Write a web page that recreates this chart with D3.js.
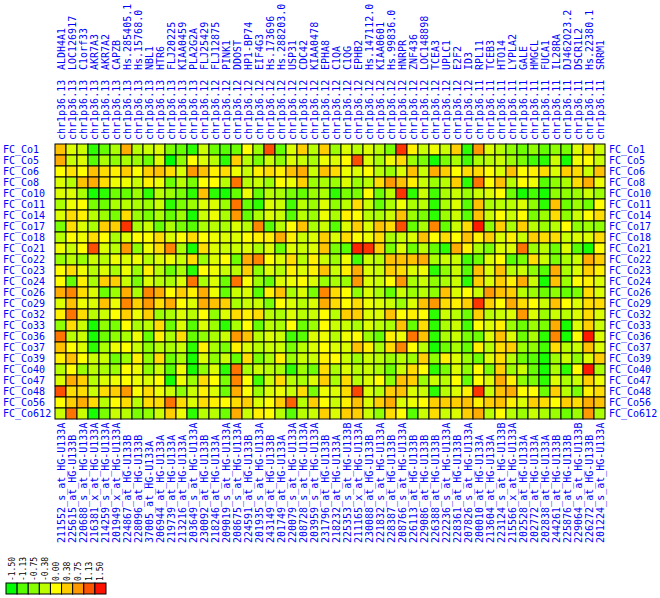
<!DOCTYPE html>
<html>
<head>
<meta charset="utf-8">
<script src="https://d3js.org/d3.v7.min.js"></script>
<style>
  body { margin: 0; background: #fff; }
  .lbl { font-family: "DejaVu Sans Mono", monospace; font-size: 10px; fill: #0000ff; }
  .leg { font-family: "DejaVu Sans Mono", monospace; font-size: 8px; fill: #000; }
</style>
</head>
<body>
<div id="chart"></div>
<script>
"use strict";

// sample rows
var samples = ["FC_Co1","FC_Co5","FC_Co6","FC_Co8","FC_Co10","FC_Co11","FC_Co14","FC_Co17","FC_Co18",
  "FC_Co21","FC_Co22","FC_Co23","FC_Co24","FC_Co26","FC_Co29","FC_Co32","FC_Co33","FC_Co36","FC_Co37",
  "FC_Co39","FC_Co40","FC_Co47","FC_Co48","FC_Co56","FC_Co612"];

// gene names (top)
var genes = ["ALDH4A1","LOC126917","C1orf33","AKR7A3","AKR7A2","CAPZB","Hs.285405.1","Hs.15768.0","NBL1",
  "HTR6","FLJ20225","KIAA0459","PLA2G2A","FLJ25429","FLJ12875","PINK1","DDOST","HP1-BP74","EIF4G3",
  "Hs.173696","Hs.288203.0","USP31","CDC42","KIAA0478","EPHA8","C1QA","C1QG","EPHB2","Hs.147112.0",
  "KIAA0601","Hs.99836.0","HNRPR","ZNF436","LOC148898","TCEA3","UPLC1","E2F2","ID3","RPL11","TCEB3",
  "HTO14","LYPLA2","GALE","HMGCL","FUCA1","IL28RA","DJ462O23.2","DSCR1L2","Hs.22380.1","SRRM1"];

// cytoband per column (13 x .13, 25 x .12, 12 x .11)
var bands = ["chr1p36.13","chr1p36.13","chr1p36.13","chr1p36.13","chr1p36.13","chr1p36.13","chr1p36.13",
  "chr1p36.13","chr1p36.13","chr1p36.13","chr1p36.13","chr1p36.13","chr1p36.13",
  "chr1p36.12","chr1p36.12","chr1p36.12","chr1p36.12","chr1p36.12","chr1p36.12","chr1p36.12","chr1p36.12",
  "chr1p36.12","chr1p36.12","chr1p36.12","chr1p36.12","chr1p36.12","chr1p36.12","chr1p36.12","chr1p36.12",
  "chr1p36.12","chr1p36.12","chr1p36.12","chr1p36.12","chr1p36.12","chr1p36.12","chr1p36.12","chr1p36.12",
  "chr1p36.12",
  "chr1p36.11","chr1p36.11","chr1p36.11","chr1p36.11","chr1p36.11","chr1p36.11","chr1p36.11","chr1p36.11",
  "chr1p36.11","chr1p36.11","chr1p36.11","chr1p36.11"];

// probe ids (bottom)
var probes = ["211552_s_at_HG-U133A","225615_at_HG-U133B","220688_s_at_HG-U133A","216381_x_at_HG-U133A",
  "214259_s_at_HG-U133A","201949_x_at_HG-U133A","224867_at_HG-U133B","228096_at_HG-U133B","37005_at_HG-U133A",
  "206944_at_HG-U133A","219739_at_HG-U133A","213216_at_HG-U133A","203649_s_at_HG-U133A","230092_at_HG-U133B",
  "218246_at_HG-U133A","209019_s_at_HG-U133A","208675_s_at_HG-U133A","224591_at_HG-U133B","201935_s_at_HG-U133A",
  "243149_at_HG-U133B","201749_at_HG-U133A","220079_s_at_HG-U133A","208728_s_at_HG-U133A","203959_s_at_HG-U133A",
  "231796_at_HG-U133B","218232_at_HG-U133A","225353_s_at_HG-U133B","211165_x_at_HG-U133A","230088_at_HG-U133B",
  "221832_s_at_HG-U133A","228387_at_HG-U133B","208766_s_at_HG-U133A","226113_at_HG-U133B","229086_at_HG-U133B",
  "226388_at_HG-U133B","222236_s_at_HG-U133A","228361_at_HG-U133B","207826_s_at_HG-U133A","200010_at_HG-U133A",
  "213604_at_HG-U133A","223124_s_at_HG-U133B","215566_x_at_HG-U133A","202528_at_HG-U133A","202772_at_HG-U133A",
  "202838_at_HG-U133A","244261_at_HG-U133B","225876_at_HG-U133B","229064_s_at_HG-U133B","226272_at_HG-U133B",
  "201224_s_at_HG-U133A"];

// expression values, one row per sample, one value per probe
var values = [
  [0.45,-0.2,-0.3,-1.3,-1.0,-0.5,0.6,-0.4,-0.3,-0.2,-0.85,-1.0,-1.3, -0.3,-0.95,-1.1,-0.95,0,-0.6,1.15,-1.0,-0.2,0.35,-0.4,0.35,-0.6, -0.2,-0.4,-0.2,-0.4,-0.85,1.3,0.1,-0.3,-0.1,-0.3,0.35,-1.3, 0.75,-0.2,-0.4,-0.7,-0.95,-0.7,-1.0,-0.7,-0.85,-0.2,0.25,-0.3],
  [0.6,-0.3,-0.2,-1.1,-0.5,-0.7,-0.5,-0.6,-0.95,-0.2,-1.5,-0.7,0, -0.2,-0.4,-1.3,0.35,-0.4,-0.85,-0.3,-0.7,-0.2,-0.3,-0.5,-0.1,-0.2, 0,1.15,-0.2,-0.5,-0.1,0.25,-0.6,-0.85,-1.4,-0.85,-0.5,-1.2, -0.5,-0.4,-0.3,-0.6,-0.85,-1.2,-1.3,-0.3,-1.4,-0.1,0,-0.3],
  [0,0.2,0,0.45,0.25,0.1,0.35,0,0.35,0.45,0.25,-0.2,0.75, 0.45,0.1,0.25,-0.1,-0.3,0.1,0.25,0.1,0.45,0.6,-0.3,0.45,0.25, -0.1,-0.2,0,-0.4,-0.6,-0.2,0.45,-0.3,0.6,0.35,0,0.25, 0.25,0,-0.2,0.45,0,0.1,0.25,-0.2,0.35,0.25,-0.3,0.45],
  [-0.2,-0.4,0.45,0.6,0.25,-0.1,-0.1,-0.3,0.1,-0.1,-0.95,-0.4,-0.85, 0,0,-0.4,0.95,-0.4,-0.3,-0.6,0,-0.1,0.35,-0.6,-0.5,-0.6, -0.2,-0.6,-0.4,0.25,0.75,0.45,0.1,-0.3,-0.6,-0.4,0.35,-1.3, 0.95,0,0.45,-0.4,0,-0.1,-1.1,-0.7,-0.5,0.25,0.6,-0.1],
  [-0.2,-0.2,-0.5,-1.4,-1.3,-0.95,-1.0,-0.6,-1.3,-0.4,-0.6,-0.85,-1.3, 0.45,-1.3,-1.4,-1.0,-0.1,-1.0,-0.4,-0.5,-0.85,-1.0,-0.6,-0.5,-1.3, -0.85,-0.85,0,-0.95,-0.4,1.3,-1.3,-0.3,-1.2,-0.5,-0.3,-0.6, -0.3,-0.2,0,-0.95,-1.4,-1.2,-1.4,-0.7,-0.7,-0.6,-0.3,-0.6],
  [-0.5,-0.1,0,-0.85,-0.95,-0.5,-0.4,-0.5,-0.6,-0.3,-1.3,-0.85,-0.6, -0.2,-0.2,-0.6,0.95,-1.0,-1.3,-0.2,-0.3,-1.2,-0.4,-0.6,-0.2,-0.7, -0.4,0.25,-0.3,-1.0,-0.5,-0.1,-0.5,-0.4,-1.3,-0.5,-0.2,-1.1, 0.45,-0.5,-0.4,-0.4,-0.2,-0.7,-1.3,0.45,-0.95,-0.6,-0.95,0],
  [-0.2,0.25,0.1,-0.4,-0.6,-0.85,0.25,-0.6,-0.85,-0.5,-1.0,-0.6,-1.4, -0.3,-0.1,-0.5,0.75,-1.0,-0.5,-0.2,-0.3,-1.1,-0.4,-0.6,-0.1,-0.5, 0.1,0,-0.4,-0.5,-0.3,0.45,-0.6,-0.85,-1.3,-0.6,-0.3,-1.1, 0.45,-0.3,0,-0.3,0,-0.85,-0.6,0.25,-0.7,-0.3,0,0.25],
  [-0.85,0.25,-0.2,-0.5,0.35,0.35,1.3,-0.5,-0.3,-1.0,-0.5,-0.85,-1.1, -0.5,-0.4,-0.5,-0.2,-0.4,0.85,-1.1,-0.4,0,0.45,-0.5,-0.3,-1.1, -0.2,0.35,-0.2,0.45,0.25,1.15,-1.0,-0.5,0.85,-1.0,-0.3,0.25, 1.45,-0.7,0.35,-0.5,0.35,-0.4,-0.6,-0.4,0,-0.7,-0.6,-0.7],
  [-0.4,0,-0.1,0.25,0,-0.5,-0.2,0,0,0.25,-0.2,0,0.25, 0,-0.1,-0.2,-0.2,0,0.1,0.1,0.6,0.1,-0.3,-0.2,0.35,-0.2, 0.25,0,-0.1,0.25,-0.5,-0.3,-0.2,0.45,0,0.25,0,0.45, 0.1,0.35,-0.2,0.1,-0.3,0.35,0.25,0.25,-0.3,-0.2,-0.2,0.25],
  [-0.1,-0.3,0,1.15,-0.2,-0.4,0.75,-0.7,-0.1,0.25,0.85,-0.5,-1.4, 0.25,-0.2,-0.3,-0.3,-0.2,-0.5,-0.2,-0.95,-0.2,-0.3,-0.2,0.45,-0.85, -1.1,1.4,1.3,0.35,-0.85,-0.2,-0.95,-0.4,-1.0,-1.3,0.6,0.1, -0.5,-0.85,-0.2,-0.2,0.95,-0.6,-0.4,-0.95,-0.2,-1.1,-1.4,0],
  [-0.6,-0.4,-0.6,-0.3,-0.4,-0.1,-0.2,-0.1,-0.4,-0.2,-0.1,-0.3,0.25, -0.6,-0.2,0,-0.95,0.6,0.85,0,-0.2,0.25,-0.4,0.1,-0.3,-0.6, -0.1,-1.2,-0.3,-0.4,0.45,0.45,0.45,0.6,-0.5,-0.3,-0.3,-1.2, -0.95,-0.2,0,-1.1,-0.85,0.25,-0.3,-0.85,-0.5,-0.3,0.6,0.35],
  [0,0.25,-0.1,-0.4,-0.2,-0.5,-0.1,-0.6,0.1,-0.4,-0.95,-0.5,-1.3, 0,-0.1,-0.3,-0.4,0.35,-0.7,-0.2,-0.4,0.1,-0.2,0.1,0.45,-0.3, 0.1,0.6,-0.2,-0.3,0.35,0.25,-0.2,-0.1,-1.3,-0.7,-0.3,-1.1, 0.45,-0.2,0.45,-0.4,-0.3,-0.7,-1.1,0.6,-0.5,-0.2,0.35,0.1],
  [0,-1.0,0.1,-0.5,0.35,0.35,-0.3,-0.85,-0.2,-0.4,-0.5,-0.2,0.95, -0.5,-0.2,-0.95,0.95,0,-0.6,-1.0,-0.2,-0.1,0,-0.2,-0.6,-0.5, -0.6,0.75,-0.2,-0.3,0,0.75,-0.5,-0.3,-0.7,-0.5,-0.3,-1.3, 0.35,-0.2,0.35,0.1,0.6,-0.3,-1.4,0.45,-0.6,0,0.1,-0.2],
  [0.6,0.85,0.25,-0.2,-0.95,-0.6,0.6,-0.5,0.85,0.6,0,0.35,0.1, 0.6,-0.1,-1.0,-0.3,-0.2,-1.1,0.1,0.45,-0.5,-0.2,-0.85,0.85,0.25, 0,-0.7,-0.2,-0.5,-1.0,-0.3,-0.6,-0.4,-0.7,0.45,-0.2,0, -0.3,0.75,0.45,0.35,-0.4,-0.6,-0.95,-0.7,-1.0,-0.85,0.25,-0.2],
  [-0.2,0.45,-0.1,-0.2,0.45,-0.1,0.85,0.35,0.75,0.25,0.6,0,-0.2, 0.6,0.45,0.35,-0.5,-0.3,-0.3,-0.85,0,-0.2,-0.4,-0.2,0.6,0.25, 0,0.25,-0.1,-0.2,-0.3,-0.6,-0.2,0.45,0.75,0.25,0.1,0.35, 1.3,0.35,0,0.6,0.25,0,-0.3,0.45,0,-0.2,0.25,0.25],
  [0.1,0.95,0.25,-0.4,-0.3,0,0.35,-0.1,0.35,-0.6,-0.5,-0.2,-0.4, 0,-0.7,-0.2,0.25,0.1,0.25,-0.4,-0.5,-0.2,-0.4,-0.3,0,-0.4, 0.35,0.35,-0.2,-0.2,0.45,0,0.1,0,-1.3,-0.3,-0.4,-0.95, 0.35,-0.4,-0.3,-0.2,0.75,-0.2,-0.6,-0.3,-0.4,-0.2,0.25,-0.2],
  [-0.7,0.25,-0.3,-1.4,-0.7,-0.85,0,-0.5,-0.4,0.25,-0.95,-0.2,-1.1, -0.2,-0.6,-1.3,-0.5,0,-1.0,-0.4,-0.5,0,-0.95,-0.6,0,-0.3, -0.3,-0.5,-0.2,-0.4,-0.5,0.45,-1.0,0.25,-1.3,-0.5,-0.3,-1.2, 0,-0.2,0.1,-0.6,-0.95,-0.6,-0.85,0.6,-1.4,-0.2,0.35,-0.3],
  [0.95,-0.4,-0.3,-1.4,-0.95,-0.7,-0.5,-0.1,-1.0,0.1,-0.5,0.25,-1.0, -0.7,-0.5,-0.3,0.75,0.45,-0.4,-0.2,-0.3,-1.2,-1.1,-0.2,-0.1,-0.4, -0.1,0,-0.6,-1.0,0.1,-0.1,0.95,0.45,-1.3,-0.5,-0.3,-0.85, -0.95,-0.2,0.45,-0.2,-0.95,-0.5,-1.3,0.85,-1.4,0,1.45,-0.2],
  [0.45,0,-0.2,-1.3,-0.5,-0.1,0,-0.3,-0.7,-0.4,-0.5,-0.3,-1.3, 0.1,-0.5,-0.85,0.1,-0.2,-0.4,-0.3,-0.3,-0.85,-0.4,-0.2,0,-0.2, -0.2,0.45,0.1,-0.5,0.25,0.85,0,-0.4,-1.4,-0.95,-0.5,-1.0, 0.1,-0.4,0.25,0.35,-0.6,-0.7,-1.2,0.25,-0.4,-0.3,0.45,-0.2],
  [0.1,0.45,0,-0.3,-0.3,-0.95,-0.6,0.1,-0.7,0.25,-0.95,-0.5,-1.4, -0.2,-0.7,-0.3,-1.0,0.25,-0.85,-0.5,0.1,-0.6,-0.3,-0.3,0.1,0, -0.3,-0.6,-0.3,-0.4,-0.6,-0.4,-0.6,0.35,-0.7,0.1,-0.2,-0.6, -0.95,-0.2,0.25,-0.4,-0.95,-1.1,-1.4,-0.6,-0.3,-0.7,-0.2,0.35],
  [-0.4,0,-0.6,-0.4,-0.5,-0.6,0,-0.1,-0.7,-0.3,-1.1,-0.1,-1.4, -0.7,-0.2,-1.3,0.95,-0.5,-0.3,-0.4,-0.5,-1.3,-0.6,-0.95,0.25,-0.5, -0.2,-0.4,-0.3,-0.5,-0.95,-0.3,0.25,0,-1.3,-0.85,-0.2,-0.7, 0,-0.85,0.35,-0.6,-0.3,-1.0,-1.4,-0.5,-1.3,0,1.45,-0.5],
  [-0.2,0.6,0.35,-0.4,-0.2,-0.1,0,-0.1,-0.2,0,-1.4,-0.1,-0.6, 0.25,0,-0.85,0.85,0,-1.2,-0.3,0.25,-0.4,-0.5,-0.2,0.35,-0.5, 0.25,-0.4,-0.2,0,-0.7,0.45,0.35,-0.6,-0.3,-0.4,0,-1.0, 0,-0.2,0.6,0.1,-0.7,-0.85,-1.3,-0.2,-0.5,-0.3,0.35,-0.1],
  [1.15,0.25,0.25,-0.3,0.25,0.35,0.75,0,0.25,-0.1,-0.3,-0.7,-0.3, 0.1,-0.2,-0.95,0.6,0,-0.6,-0.2,-0.1,-0.3,0.25,-0.85,-0.1,-0.2, 0.25,1.2,-0.2,-0.4,0.35,0.45,-0.2,-0.3,-1.3,-0.4,-0.2,0.1, 1.3,-0.3,0.45,0.6,0,0,-0.95,0.35,-0.4,-0.85,0.1,0.25],
  [0,0.35,0.6,0.25,-0.4,0,0.25,-0.4,0.25,0.25,0.95,0.25,-0.2, 0.25,0.1,0,0.25,0.35,-0.2,0,0.35,1.05,-0.4,0.35,0,-0.3, 0.1,0.45,-0.2,0.35,0.6,-0.2,-0.1,0,0.35,0.35,0.35,0.45, 0.1,0.35,0.45,0.1,-0.2,0.35,0.25,0,0.35,0.25,0.6,0.45],
  [-0.3,0.95,-0.3,-1.4,-0.85,-0.3,-0.4,-0.85,-0.7,-0.3,0.35,-0.1,-1.3, -0.4,-0.4,-0.95,0.6,-0.3,0.1,0,-0.4,-1.1,-0.4,-0.3,0.35,-0.2, 0.35,0.35,-0.3,-0.7,0.25,0,-1.1,-0.3,0.25,-0.3,-0.2,0.35, 0.6,-0.4,0,-0.4,-0.6,-0.3,-0.5,-0.6,-0.95,-0.6,0.75,-0.5]
];

// legend
var legendValues = [-1.5, -1.125, -0.75, -0.375, 0, 0.375, 0.75, 1.125, 1.5];
var legendLabels = ["-1.50","-1.13","-0.75","-0.38","0.00","0.38","0.75","1.13","1.50"];
var legendColors = ["#00ff00","#55ff00","#88ff00","#bbff00","#ffff00","#ffcc00","#ff9900","#ff5500","#ff1100"];

var W = 660, H = 598;
var svg = d3.select("#chart").append("svg")
  .attr("width", W).attr("height", H);

var x = d3.scaleBand().domain(d3.range(probes.length)).range([55, 605]);
var y = d3.scaleBand().domain(samples).range([144, 419]);
var color = d3.scaleLinear().domain(legendValues).range(legendColors).clamp(true);

var cells = [];
values.forEach(function(row, i) {
  row.forEach(function(v, j) { cells.push({ s: samples[i], j: j, v: v }); });
});

svg.append("g").selectAll("rect")
  .data(cells)
  .enter().append("rect")
    .attr("x", d => x(d.j))
    .attr("y", d => y(d.s))
    .attr("width", x.bandwidth())
    .attr("height", y.bandwidth())
    .attr("fill", d => color(d.v))
    .attr("stroke", "#000")
    .attr("stroke-width", 1);

// row labels both sides
function rowAxis(xpos) {
  var g = svg.append("g")
    .attr("transform", "translate(" + xpos + ",0)")
    .call(d3.axisRight(y).tickSize(0).tickPadding(0));
  g.select(".domain").remove();
  g.selectAll("text").attr("class", "lbl").attr("dy", "0.36em")
    .attr("font-family", null).attr("font-size", null).attr("fill", null);
}
rowAxis(3);
rowAxis(609);

// column labels, vertical (rotated about their own anchor point)
function colLabels(list, ypos) {
  svg.append("g").selectAll("text")
    .data(list)
    .enter().append("text")
      .attr("class", "lbl")
      .attr("x", (d, j) => x(j) + x.bandwidth() / 2 + 4)
      .attr("y", ypos)
      .attr("transform", (d, j) => "rotate(-90," + (x(j) + x.bandwidth() / 2 + 4) + "," + ypos + ")")
      .text(d => d);
}
colLabels(genes, 70);
colLabels(bands, 140);
colLabels(probes, 543);

// legend
var lx = d3.scaleBand().domain(legendLabels).range([6, 106]);
var leg = svg.append("g");
leg.selectAll("rect")
  .data(legendLabels)
  .enter().append("rect")
    .attr("x", d => lx(d))
    .attr("y", 583)
    .attr("width", lx.bandwidth())
    .attr("height", 11)
    .attr("fill", (d, i) => color(legendValues[i]))
    .attr("stroke", "#000");
leg.selectAll("text")
  .data(legendLabels)
  .enter().append("text")
    .attr("class", "leg")
    .attr("x", d => lx(d) + lx.bandwidth() / 2 + 3)
    .attr("y", 581)
    .attr("transform", d => "rotate(-90," + (lx(d) + lx.bandwidth() / 2 + 3) + ",581)")
    .text(d => d);
</script>
</body>
</html>
